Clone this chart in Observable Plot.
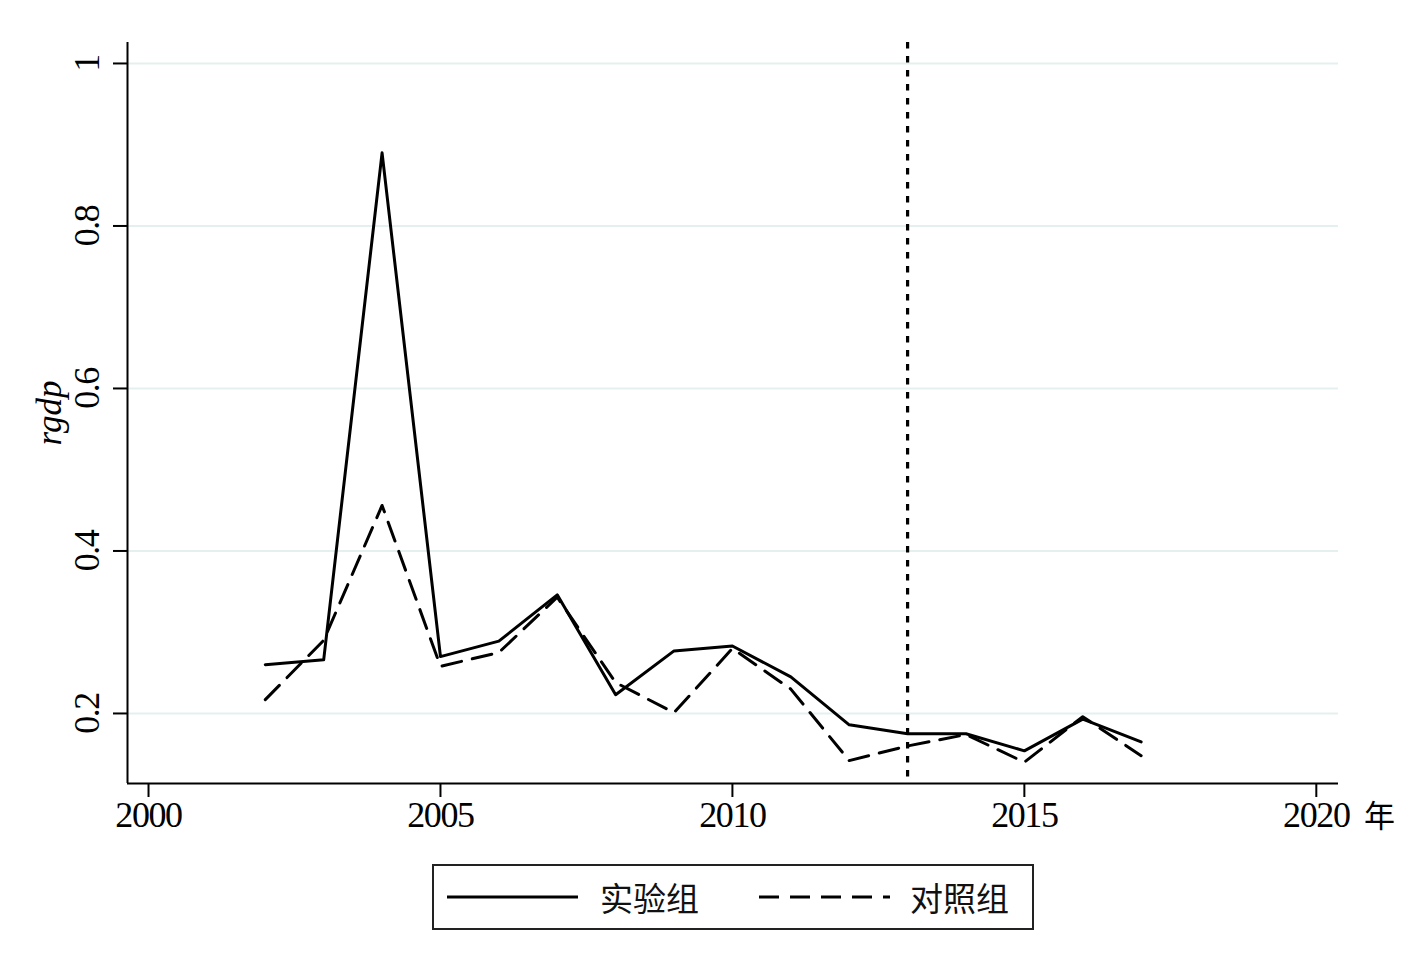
<!DOCTYPE html>
<html>
<head>
<meta charset="utf-8">
<script src="https://cdn.jsdelivr.net/npm/d3@7"></script>
<script src="https://cdn.jsdelivr.net/npm/@observablehq/plot@0.6"></script>
<style>
  html, body { margin: 0; padding: 0; background: #fff; }
  #chart { position: absolute; left: 0; top: 0; }
  #chart svg g[aria-label="x-axis tick label"] text,
  #chart svg g[aria-label="y-axis tick label"] text { letter-spacing: -1.4px; }
  #legend {
    position: absolute; left: 432px; top: 864px; width: 598px; height: 62px;
    border: 2px solid #222; box-sizing: content-box;
    font-family: "Noto Sans CJK SC", sans-serif; font-size: 33px; color: #111;
  }
  #legend .item { position: absolute; top: 0; height: 62px; display: flex; align-items: center; }
  #legend svg { display: block; }
</style>
</head>
<body>
<div id="chart"></div>
<div id="legend"></div>
<script>
// ---- data ----
const years = [2002, 2003, 2004, 2005, 2006, 2007, 2008, 2009, 2010, 2011, 2012, 2013, 2014, 2015, 2016, 2017];
const treated = [0.260, 0.266, 0.890, 0.270, 0.289, 0.346, 0.223, 0.277, 0.283, 0.245, 0.186, 0.175, 0.175, 0.154, 0.193, 0.165];
const control = [0.217, 0.290, 0.456, 0.258, 0.275, 0.343, 0.238, 0.201, 0.280, 0.230, 0.142, 0.160, 0.174, 0.140, 0.196, 0.148];
const seriesNames = ["实验组", "对照组"];
const xTicks = [2000, 2005, 2010, 2015, 2020];
const yTicks = [0.2, 0.4, 0.6, 0.8, 1];
const yTickLabels = ["0.2", "0.4", "0.6", "0.8", "1"];
const policyYear = [2013];
const xLabel = "年";
const yLabel = "rgdp";
const xDomain = [1999.64, 2020.38];
const yDomain = [0.1138, 1.0258];

const rows = [];
years.forEach((y, i) => {
  rows.push({year: y, value: treated[i], group: seriesNames[0]});
  rows.push({year: y, value: control[i], group: seriesNames[1]});
});
const treatRows = rows.filter(d => d.group === seriesNames[0]);
const ctrlRows = rows.filter(d => d.group === seriesNames[1]);

const chart = Plot.plot({
  width: 1426,
  height: 850,
  marginLeft: 127,
  marginRight: 88,
  marginTop: 42,
  marginBottom: 67,
  style: {fontFamily: "'Liberation Serif', 'DejaVu Serif', serif", fontSize: "36px", color: "#000", background: "#fff"},
  x: {domain: xDomain},
  y: {domain: yDomain},
  marks: [
    Plot.gridY(yTicks, {stroke: "#e6eff0", strokeOpacity: 1, strokeWidth: 2}),
    Plot.ruleX([xDomain[0]], {stroke: "#000", strokeWidth: 2}),
    Plot.ruleY([yDomain[0]], {stroke: "#000", strokeWidth: 2}),
    Plot.axisX({ticks: xTicks, tickFormat: d => String(d), tickSize: 14, tickPadding: 4, strokeWidth: 2, label: null, fontSize: 36}),
    Plot.axisY({ticks: yTicks, tickFormat: d => yTickLabels[yTicks.indexOf(d)], tickSize: 14, tickPadding: 15, tickRotate: -90, strokeWidth: 2, label: null, fontSize: 36}),
    Plot.text([yLabel], {frameAnchor: "left", text: d => d, rotate: -90, dx: -78, textAnchor: "middle", lineAnchor: "middle", fontStyle: "italic", fontSize: 35, fill: "#000"}),
    Plot.text([xLabel], {frameAnchor: "bottom-right", text: d => d, dx: 41, dy: 34, textAnchor: "middle", lineAnchor: "middle", fontSize: 31, fill: "#000", fontFamily: "'Noto Sans CJK SC', sans-serif"}),
    Plot.ruleX(policyYear, {stroke: "#000", strokeWidth: 3.2, strokeDasharray: "6.5,7.5"}),
    Plot.line(ctrlRows, {x: "year", y: "value", stroke: "#000", strokeWidth: 3, strokeDasharray: "20,11"}),
    Plot.line(treatRows, {x: "year", y: "value", stroke: "#000", strokeWidth: 3})
  ]
});
document.getElementById("chart").appendChild(chart);

// legend
const legend = document.getElementById("legend");
const items = [
  {name: seriesNames[0], dash: null, lineLeft: 13, textLeft: 166},
  {name: seriesNames[1], dash: "20,11", lineLeft: 325, textLeft: 476}
];
items.forEach(it => {
  const l = document.createElement("div");
  l.className = "item";
  l.style.left = it.lineLeft + "px";
  l.innerHTML = `<svg width="131" height="6"><line x1="0" y1="3" x2="131" y2="3" stroke="#000" stroke-width="3" ${it.dash ? `stroke-dasharray="${it.dash}"` : ""}/></svg>`;
  legend.appendChild(l);
  const t = document.createElement("div");
  t.className = "item";
  t.style.left = it.textLeft + "px";
  t.textContent = it.name;
  legend.appendChild(t);
});
</script>
</body>
</html>
